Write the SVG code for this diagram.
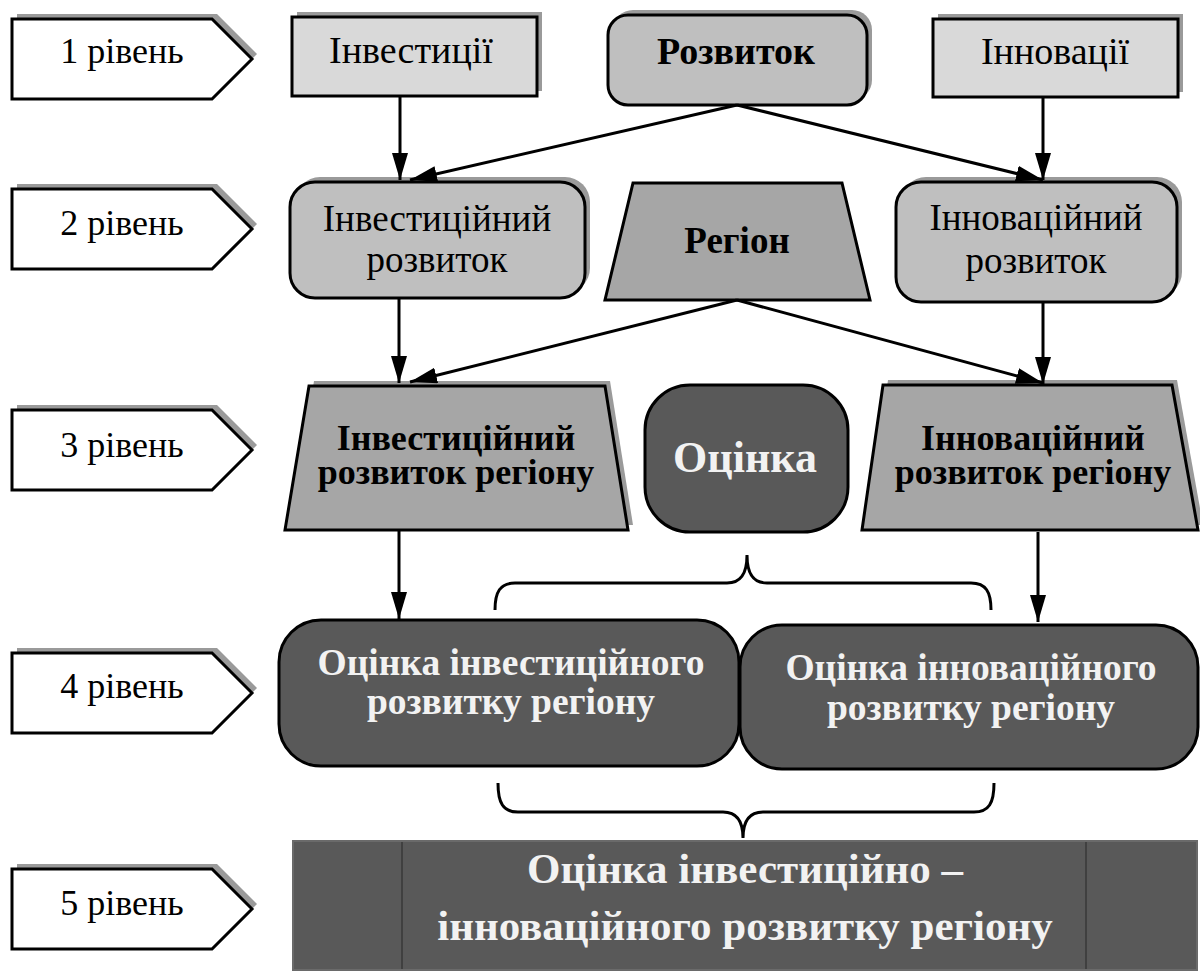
<svg xmlns="http://www.w3.org/2000/svg" width="1200" height="977" viewBox="0 0 1200 977">
<style>
text{font-family:"Liberation Serif","Times New Roman",serif;font-size:36px;text-anchor:middle;fill:#000}
.b{font-weight:bold}
.w{fill:#f2f2f2}
.f37{font-size:37px}
.f38{font-size:38px}
.f4{font-size:37.5px}
.sh{fill:#9a9a9a;stroke:none}
.lvl{fill:#fff;stroke:#000;stroke-width:3}
.l1{fill:#d9d9d9;stroke:#000;stroke-width:3}
.l2{fill:#bfbfbf;stroke:#000;stroke-width:3}
.l3{fill:#a6a6a6;stroke:#000;stroke-width:3}
.dk{fill:#595959;stroke:#000;stroke-width:3}
.ar{stroke:#000;stroke-width:3;fill:none;marker-end:url(#ah)}
.br{stroke:#000;stroke-width:3;fill:none}
</style>
<defs>
<marker id="ah" markerUnits="userSpaceOnUse" markerWidth="28" markerHeight="18" refX="27" refY="8" orient="auto">
<path d="M0,0 L27,8 L0,16 Z" fill="#000"/>
</marker>
<path id="pent" d="M0,0 H200 L240,40 L200,80 H0 Z"/>
</defs>
<rect width="1200" height="977" fill="#fff"/>

<g id="levels">
<g id="lvl1" transform="translate(12,19)"><use href="#pent" class="sh" x="5" y="-5"/><use href="#pent" class="lvl"/><text x="110" y="44">1 рівень</text></g>
<g id="lvl2" transform="translate(12,189)"><use href="#pent" class="sh" x="5" y="-5"/><use href="#pent" class="lvl"/><text x="110" y="46">2 рівень</text></g>
<g id="lvl3" transform="translate(12,410)"><use href="#pent" class="sh" x="5" y="-5"/><use href="#pent" class="lvl"/><text x="110" y="47">3 рівень</text></g>
<g id="lvl4" transform="translate(12,653)"><use href="#pent" class="sh" x="5" y="-5"/><use href="#pent" class="lvl"/><text x="110" y="45">4 рівень</text></g>
<g id="lvl5" transform="translate(12,869)"><use href="#pent" class="sh" x="5" y="-5"/><use href="#pent" class="lvl"/><text x="110" y="46">5 рівень</text></g>
</g>

<g id="investytsii"><rect x="297" y="12" width="245" height="79" class="sh"/><rect x="292" y="17" width="245" height="79" class="l1"/><text class="f38" x="411" y="63">Інвестиції</text></g>
<g id="rozvytok"><rect x="613" y="10" width="259" height="90" rx="20" class="sh"/><rect x="608" y="15" width="259" height="90" rx="20" class="l2"/><text class="b f38" x="736" y="64">Розвиток</text></g>
<g id="innovatsii"><rect x="938" y="14" width="245" height="78" class="sh"/><rect x="933" y="19" width="245" height="78" class="l1"/><text class="f38" x="1055" y="64">Інновації</text></g>

<g id="inv-rozvytok"><rect x="295" y="177" width="295" height="116" rx="25" class="sh"/><rect x="290" y="182" width="295" height="116" rx="25" class="l2"/><text class="f37" x="437" y="231">Інвестиційний</text><text class="f37" x="437" y="272">розвиток</text></g>
<g id="region"><path d="M633,183 H842 L870,300 H605 Z" class="l3"/><text class="b f37" x="737" y="253">Регіон</text></g>
<g id="inn-rozvytok"><rect x="901" y="177" width="281" height="120" rx="25" class="sh"/><rect x="896" y="182" width="281" height="120" rx="25" class="l2"/><text class="f37" x="1036" y="230">Інноваційний</text><text class="f37" x="1036" y="273">розвиток</text></g>

<g id="inv-rozvytok-regionu"><path d="M314,381 H610 L633,525 H290 Z" class="sh"/><path d="M309,386 H605 L628,530 H285 Z" class="l3"/><text class="b" x="456" y="450">Інвестиційний</text><text class="b" x="456" y="484">розвиток регіону</text></g>
<g id="otsinka"><rect x="645" y="385" width="203" height="147" rx="45" class="dk"/><text class="b w" style="font-size:44px" x="745" y="472">Оцінка</text></g>
<g id="inn-rozvytok-regionu"><path d="M888,380 H1177 L1203,525 H867 Z" class="sh"/><path d="M883,385 H1172 L1198,530 H862 Z" class="l3"/><text class="b" x="1033" y="450">Інноваційний</text><text class="b" x="1033" y="484">розвиток регіону</text></g>

<g id="otsinka-inv"><rect x="279" y="620" width="460" height="146" rx="42" class="dk"/><text class="b w f4" x="511" y="675">Оцінка інвестиційного</text><text class="b w f4" x="511" y="714">розвитку регіону</text></g>
<g id="otsinka-inn"><rect x="740" y="625" width="458" height="144" rx="42" class="dk"/><text class="b w f4" x="971" y="680">Оцінка інноваційного</text><text class="b w f4" x="971" y="720">розвитку регіону</text></g>

<g id="otsinka-total"><rect x="293" y="841" width="904" height="129" fill="#595959" stroke="#6a6a6a" stroke-width="2"/><line x1="402" y1="842" x2="402" y2="969" stroke="#404040" stroke-width="2"/><line x1="1086" y1="842" x2="1086" y2="969" stroke="#404040" stroke-width="2"/><text class="b w" style="font-size:43px" x="745" y="883">Оцінка інвестиційно –</text><text class="b w" style="font-size:43px" x="745" y="940">інноваційного розвитку регіону</text></g>

<g id="connectors">
<line x1="400" y1="96" x2="400" y2="180" class="ar"/>
<line x1="737" y1="105" x2="410" y2="180" class="ar"/>
<line x1="737" y1="105" x2="1043" y2="180" class="ar"/>
<line x1="1043" y1="97" x2="1043" y2="180" class="ar"/>
<line x1="399" y1="298" x2="399" y2="383" class="ar"/>
<line x1="737" y1="300" x2="410" y2="382" class="ar"/>
<line x1="737" y1="300" x2="1043" y2="383" class="ar"/>
<line x1="1043" y1="302" x2="1043" y2="384" class="ar"/>
<line x1="399" y1="530" x2="399" y2="619" class="ar"/>
<line x1="1038" y1="532" x2="1038" y2="622" class="ar"/>
<path class="br" d="M495,610 C495,592 500,583 515,583 H727 C740,583 747,575 747,555 C747,575 754,583 767,583 H971 C986,583 991,592 991,610"/>
<path class="br" d="M498,783 C498,803 503,812 518,812 H723 C736,812 743,820 743,838 C743,820 750,812 763,812 H974 C989,812 994,803 994,783"/>
</g>
</svg>
